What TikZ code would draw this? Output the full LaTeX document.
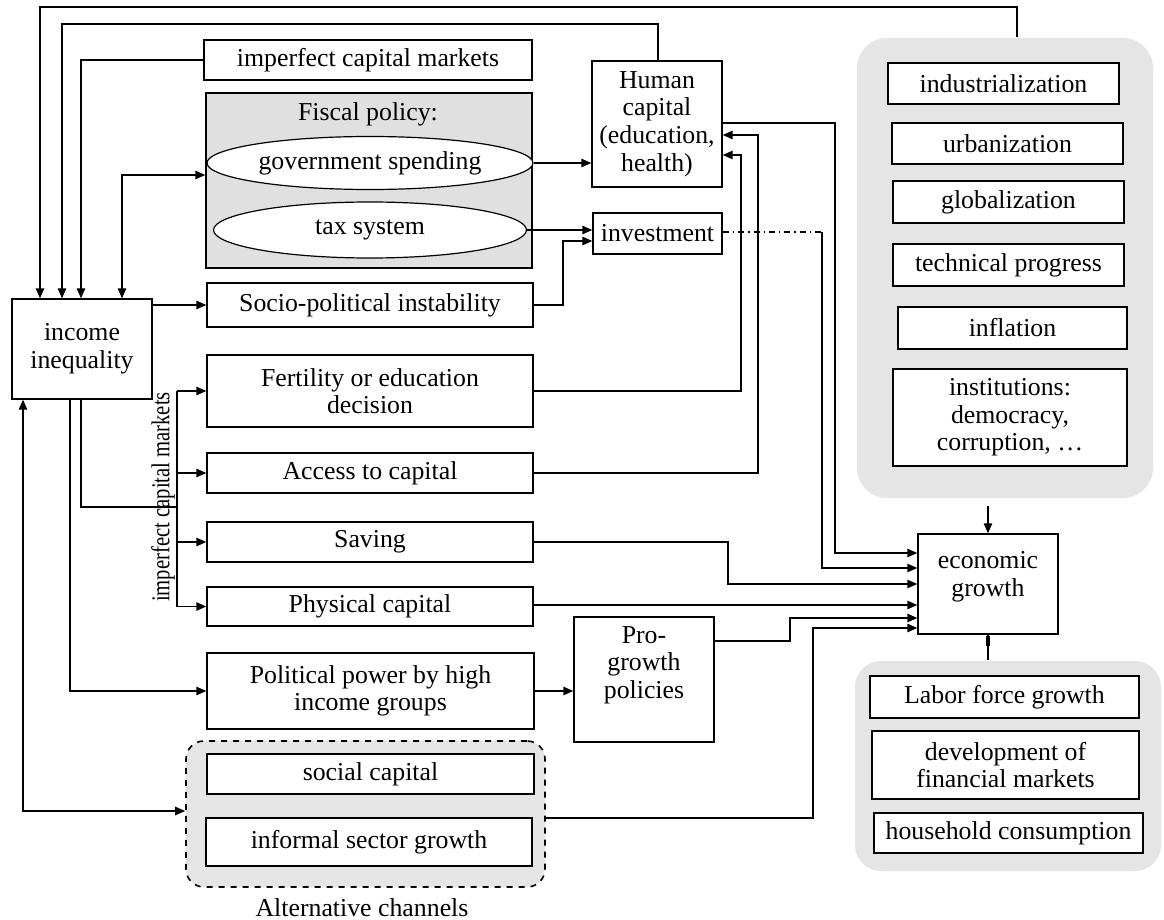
\documentclass[tikz,border=0pt]{standalone}
\usepackage{fontspec}
\setmainfont{Liberation Serif}
\usetikzlibrary{arrows.meta,shapes.geometric}
\definecolor{panelgray}{RGB}{229,229,229}
\definecolor{fiscgray}{RGB}{224,224,224}
\newcommand\fsz{\fontsize{12.9}{13.8}\selectfont}
% \bx[options]{name}{x1}{y1}{x2}{y2}{text}
\newcommand\bx[7][]{\node[box,#1,minimum width={(#5-#3)*0.5pt},minimum height={(#6-#4)*0.5pt}] (#2) at ({(#3+#5)/2},{(#4+#6)/2}) {#7};}
\begin{document}
\begin{tikzpicture}[x=0.5pt,y=-0.5pt,
  box/.style={draw, fill=white, inner sep=0pt, align=center, font=\fsz, line width=0.7pt},
  panel/.style={draw=none, fill=panelgray, rounded corners=15pt},
  oval/.style={ellipse, draw, fill=white, inner sep=0pt, font=\fsz, line width=0.6pt},
  txt/.style={font=\fsz, align=center, inner sep=0pt},
  conn/.style={line width=0.7pt},
  arr/.style={conn, -{Triangle[length=5pt,width=4.2pt]}},
  darr/.style={conn, {Triangle[length=5pt,width=4.2pt]}-{Triangle[length=5pt,width=4.2pt]}}]
\fill[white] (0,0) rectangle (1164,920);
% panels
\bx[panel]{rpanel}{857}{38}{1153}{498}{}
\bx[panel, rounded corners=13pt]{bpanel}{855}{661}{1161}{871}{}
\bx[panel, draw=black, dashed, line width=0.8pt, rounded corners=9pt]{altbox}{186}{741}{545}{887}{}
\bx[fill=fiscgray]{fiscal}{206}{93}{532}{268}{}
% left nodes
\bx{ineq}{12}{299}{152}{399}{income\\inequality}
\bx{icm}{204}{40}{532}{80}{imperfect capital markets}
\node[txt] (fisctitle) at (368,114) {Fiscal policy:};
\node[oval, minimum width=163pt, minimum height=26.5pt] (gov) at (370,163) {government spending};
\node[oval, minimum width=156.5pt, minimum height=28pt] (tax) at (370,230) {tax system};
\bx{hc}{592}{61}{722}{187}{Human\\capital\\(education,\\health)}
\bx{inv}{593}{213}{722}{254}{investment}
\bx{spi}{207}{283}{533}{327}{Socio-political instability}
\bx{fert}{207}{355}{533}{427}{Fertility or education\\decision}
\bx{acc}{207}{453}{533}{493}{Access to capital}
\bx{sav}{207}{522}{533}{562}{Saving}
\bx{phys}{207}{587}{533}{626}{Physical capital}
\bx{pol}{207}{653}{534}{729}{Political power by high\\income groups}
\bx{pro}{574}{617}{714}{742}{}
\node[txt, anchor=north] (protext) at (644,626) {Pro-\\growth\\policies};
\bx{soc}{207}{754}{534}{794}{social capital}
\bx{inf}{206}{818}{532}{866}{informal sector growth}
\node[txt] (altlabel) at (362,908) {Alternative channels};
\node[txt, rotate=90] (icmv) at (163,497) {\scalebox{0.8}[1]{imperfect capital markets}};
% right nodes
\bx{eg}{918}{534}{1058}{634}{}
\node[txt] (egtext) at (988,577) {economic\\growth};
\bx{ind}{888}{63}{1119}{104}{industrialization}
\bx{urb}{892}{123}{1123}{164}{urbanization}
\bx{glob}{893}{181}{1124}{223}{globalization}
\bx{tech}{893}{244}{1124}{286}{technical progress}
\bx{infl}{898}{307}{1127}{349}{inflation}
\bx{inst}{893}{369}{1127}{466}{institutions:\\democracy,\\corruption, \dots}
\bx{lab}{870}{676}{1139}{718}{Labor force growth}
\bx{dev}{872}{731}{1139}{799}{development of\\financial markets}
\bx{hh}{874}{813}{1143}{853}{household consumption}
% connectors into income inequality (top)
\draw[arr] (1017,0 |- rpanel.north) -- (1017,7) -- (40,7) -- (40,0 |- ineq.north);
\draw[arr] (658,0 |- hc.north) -- (658,24) -- (62,24) -- (62,0 |- ineq.north);
\draw[arr] (icm.west) -- (81,0 |- icm.west) -- (81,0 |- ineq.north);
\draw[darr] (122,0 |- ineq.north) -- (122,175) -- (fiscal.west |- 122,175);
% fiscal
\draw[arr] (gov.east) -- (hc.west |- gov.east);
\draw[arr] (tax.east) -- (inv.west |- tax.east);
\draw[arr] (ineq.east |- spi.west) -- (spi.west);
\draw[arr] (spi.east) -- (563,0 |- spi.east) -- (563,241) -- (inv.west |- 563,241);
\draw[arr] (fert.east) -- (741,0 |- fert.east) -- (741,155) -- (hc.east |- 741,155);
\draw[arr] (acc.east) -- (758,0 |- acc.east) -- (758,135) -- (hc.east |- 758,135);
% into economic growth
\draw[arr] (hc.east |- 0,123) -- (835,123) -- (835,553) -- (eg.west |- 0,553);
\draw[conn, dash dot] (inv.east |- 0,232) -- (822,232);
\draw[arr] (822,232) -- (822,568) -- (eg.west |- 0,568);
\draw[arr] (sav.east) -- (728,0 |- sav.east) -- (728,584) -- (eg.west |- 0,584);
\draw[arr] (phys.east |- 0,605) -- (eg.west |- 0,605);
\draw[arr] (pro.east |- 0,641) -- (790,641) -- (790,618) -- (eg.west |- 0,618);
\draw[arr] (altbox.east |- 0,818) -- (813,818) -- (813,628) -- (eg.west |- 0,628);
\draw[arr] (eg.north |- 0,506) -- (eg.north);
\draw[conn] (eg.south) -- (eg.south |- bpanel.north);
\draw[line width=2.2pt] (eg.south |- 0,636) -- (eg.south |- 0,646);
% from income inequality downward
\draw[arr] (pol.east) -- (pro.west |- pol.east);
\draw[arr] (70,0 |- ineq.south) -- (70,0 |- pol.west) -- (pol.west);
\draw[conn] (81,0 |- ineq.south) -- (81,507) -- (177,507);
\draw[conn] (177,0 |- fert.west) -- (177,0 |- phys.west);
\draw[arr] (177,0 |- fert.west) -- (fert.west);
\draw[arr] (177,0 |- acc.west) -- (acc.west);
\draw[arr] (177,0 |- sav.west) -- (sav.west);
\draw[arr] (177,0 |- phys.west) -- (phys.west);
\draw[darr] (23,0 |- ineq.south) -- (23,811) -- (altbox.west |- 23,811);
\end{tikzpicture}
\end{document}
